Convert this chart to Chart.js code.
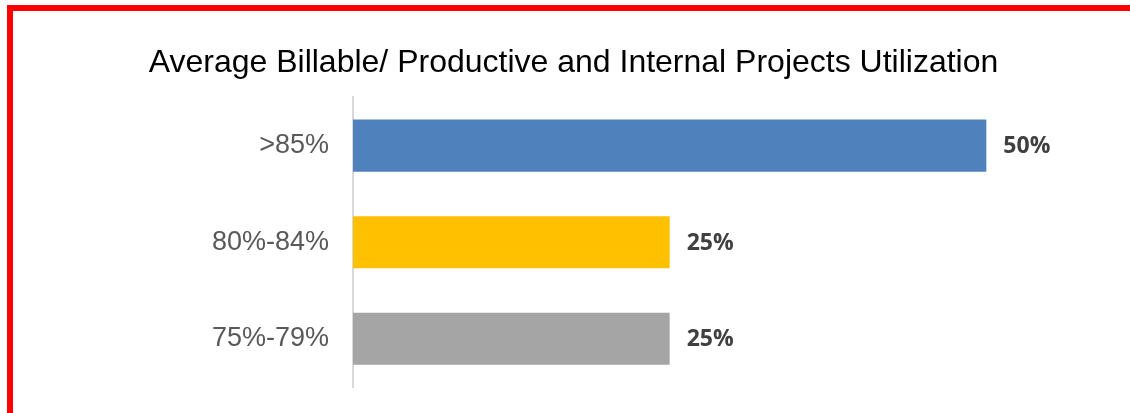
<!DOCTYPE html>
<html>
<head>
<meta charset="utf-8">
<script src="https://cdn.jsdelivr.net/npm/chart.js@4.4.1/dist/chart.umd.min.js"></script>
<style>
  html, body { margin: 0; padding: 0; background: #fff; }
  #wrap { position: relative; width: 1130px; height: 413px; overflow: hidden; }
  #frame {
    position: absolute; left: 7px; top: 5px; right: 0; bottom: -10px;
    border-top: 6px solid #ff0000; border-left: 6px solid #ff0000;
    pointer-events: none;
  }
  canvas { position: absolute; left: 0; top: 0; }
</style>
</head>
<body>
<div id="wrap">
  <canvas id="chart" width="1130" height="413"></canvas>
  <div id="frame"></div>
</div>
<script>
  // Chart data
  const categories = ['>85%', '80%-84%', '75%-79%'];
  const shares = [50, 25, 25];
  const barColors = ['#4F81BD', '#FFC000', '#A5A5A5'];
  const chartTitle = 'Average Billable/ Productive and Internal Projects Utilization';

  // Draws the percentage to the right of each bar
  const valueLabels = {
    id: 'valueLabels',
    afterDatasetsDraw(chart) {
      const ctx = chart.ctx;
      const meta = chart.getDatasetMeta(0);
      ctx.save();
      ctx.font = 'bold 23px "Open Sans", sans-serif';
      ctx.fillStyle = '#404040';
      ctx.textAlign = 'left';
      ctx.textBaseline = 'middle';
      meta.data.forEach((bar, i) => {
        ctx.fillText(shares[i] + '%', bar.x + 17, bar.y + 1);
      });
      ctx.restore();
    }
  };

  const padLeft = 34;
  const padRight = 17;

  new Chart(document.getElementById('chart').getContext('2d'), {
    type: 'bar',
    data: {
      labels: categories,
      datasets: [{
        data: shares,
        backgroundColor: barColors,
        borderWidth: 0,
        categoryPercentage: 1,
        barPercentage: 0.54
      }]
    },
    plugins: [valueLabels],
    options: {
      indexAxis: 'y',
      responsive: false,
      animation: false,
      layout: { padding: { left: padLeft, right: padRight, top: 0, bottom: 26 } },
      scales: {
        x: { display: false, min: 0, max: 60 },
        y: {
          grid: { display: false, drawTicks: false },
          border: { display: true, color: '#d9d9d9', width: 2 },
          ticks: {
            color: '#595959',
            font: { family: '"Liberation Sans", Arial, sans-serif', size: 27 },
            padding: 24
          },
          afterFit(scale) {
            // fixed axis width, and no extra vertical room for the labels
            scale.width = 353 - padLeft;
            scale.paddingTop = 0;
            scale.paddingBottom = 0;
          }
        }
      },
      plugins: {
        legend: { display: false },
        tooltip: { enabled: false },
        title: {
          display: true,
          text: chartTitle,
          color: '#000000',
          font: { family: '"Liberation Sans", Arial, sans-serif', size: 32, weight: 'normal' },
          padding: { top: 44, bottom: 15 }
        }
      }
    }
  });
</script>
</body>
</html>
